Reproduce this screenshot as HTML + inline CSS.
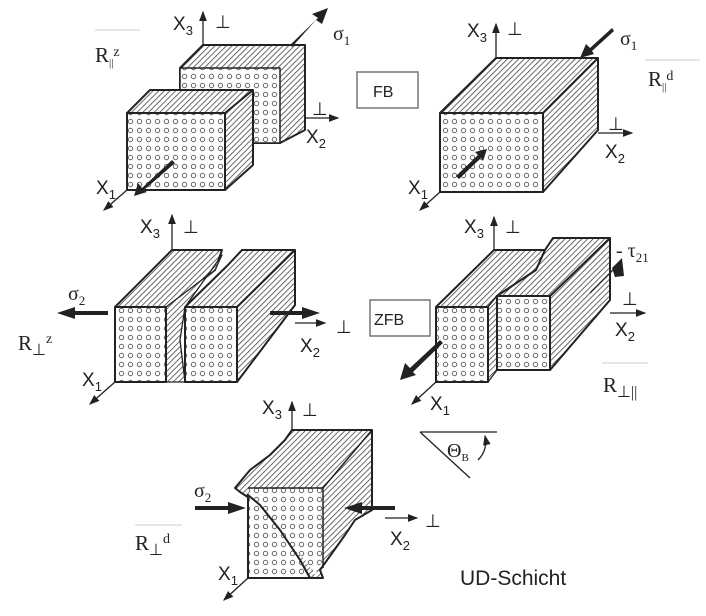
<!DOCTYPE html>
<html><head><meta charset="utf-8"><style>
html,body{margin:0;padding:0;background:#fff}
svg{display:block}
text{font-family:"Liberation Sans",sans-serif;fill:#222}
.s{font-family:"Liberation Serif",serif}
</style></head><body>
<svg width="706" height="616" viewBox="0 0 706 616" xmlns="http://www.w3.org/2000/svg">
<defs>
<pattern id="h" width="4" height="4" patternUnits="userSpaceOnUse" patternTransform="rotate(45)">
<rect width="4" height="4" fill="#fff"/><line x1="0" y1="0" x2="0" y2="4" stroke="#444" stroke-width="1.6"/></pattern>
<pattern id="d" width="9" height="9" patternUnits="userSpaceOnUse">
<rect width="9" height="9" fill="#fff"/><circle cx="4.5" cy="4.5" r="2.2" fill="none" stroke="#666" stroke-width="1"/></pattern>
<marker id="a" markerWidth="8" markerHeight="8" refX="7" refY="4" orient="auto"><path d="M0,1 L8,4 L0,7z" fill="#222"/></marker>
</defs>
<g stroke="#222" stroke-width="2" stroke-linejoin="round">
<polygon points="180,68 203,45 305,45 305,130 280,143 180,143" fill="url(#h)"/>
<rect x="180" y="68" width="100" height="75" fill="url(#d)" stroke-width="1.5"/>
<polygon points="127,113 150,90 253,90 253,165 225,190 225,113" fill="url(#h)"/>
<line x1="225" y1="113" x2="253" y2="90"/>
<rect x="127" y="113" width="98" height="77" fill="url(#d)"/>
</g>
<g stroke="#222" stroke-width="1.3" fill="none">
<line x1="203" y1="45" x2="203" y2="12" marker-end="url(#a)"/>
<line x1="305" y1="118" x2="338" y2="118" marker-end="url(#a)"/>
<line x1="127" y1="190" x2="104" y2="210" marker-end="url(#a)"/>
</g>
<path d="M290,45 L318,18 L312,14 L328,8 L322,24 L316,20 L292,47z" fill="#222"/>
<path d="M172,160 L142,188 L138,183 L134,196 L147,192 L144,190 L175,163z" fill="#222"/>
<text x="173" y="30" font-size="19">X<tspan font-size="13" dy="5">3</tspan></text>
<text x="215" y="28" font-size="18">⊥</text>
<text x="333" y="40" font-size="20" class="s">σ<tspan font-size="13" dy="5">1</tspan></text>
<text x="95" y="62" font-size="21" class="s">R<tspan font-size="11" dy="4">||</tspan><tspan font-size="14" dy="-10">z</tspan></text>
<line x1="95" y1="30" x2="140" y2="30" stroke="#ccc"/>
<text x="312" y="115" font-size="18">⊥</text>
<text x="306" y="143" font-size="19">X<tspan font-size="13" dy="5">2</tspan></text>
<text x="96" y="194" font-size="19">X<tspan font-size="13" dy="5">1</tspan></text>
<rect x="357" y="72" width="61" height="36" fill="#fff" stroke="#777" stroke-width="1.5"/>
<text x="373" y="97" font-size="16">FB</text>
<g stroke="#222" stroke-width="2" stroke-linejoin="round">
<polygon points="440,113 496,58 598,58 598,130 543,192 440,192" fill="url(#h)"/>
<line x1="543" y1="113" x2="598" y2="58"/>
<rect x="440" y="113" width="103" height="79" fill="url(#d)"/>
</g>
<g stroke="#222" stroke-width="1.3" fill="none">
<line x1="496" y1="58" x2="496" y2="24" marker-end="url(#a)"/>
<line x1="598" y1="133" x2="632" y2="133" marker-end="url(#a)"/>
<line x1="440" y1="192" x2="420" y2="210" marker-end="url(#a)"/>
</g>
<path d="M612,28 L590,48 L586,44 L580,58 L594,54 L592,51 L614,31z" fill="#222"/>
<path d="M456,176 L478,155 L475,152 L487,149 L483,161 L481,158 L459,179z" fill="#222"/>
<text x="467" y="37" font-size="19">X<tspan font-size="13" dy="5">3</tspan></text>
<text x="507" y="35" font-size="18">⊥</text>
<text x="620" y="45" font-size="20" class="s">σ<tspan font-size="13" dy="5">1</tspan></text>
<text x="648" y="86" font-size="21" class="s">R<tspan font-size="11" dy="4">||</tspan><tspan font-size="14" dy="-10">d</tspan></text>
<line x1="645" y1="60" x2="700" y2="60" stroke="#ccc"/>
<text x="608" y="130" font-size="18">⊥</text>
<text x="605" y="158" font-size="19">X<tspan font-size="13" dy="5">2</tspan></text>
<text x="408" y="194" font-size="19">X<tspan font-size="13" dy="5">1</tspan></text>
<g stroke="#222" stroke-width="2" stroke-linejoin="round">
<polygon points="115,307 172,250 222,250 215,270 168,307" fill="url(#h)"/>
<polygon points="185,307 228,265 242,250 295,250 295,305 237,382 185,382" fill="url(#h)"/>
<polygon points="166,307 215,270 222,255 185,307 180,340 185,382 166,382 160,345" fill="url(#h)" stroke-width="1.3"/>
<rect x="115" y="307" width="51" height="75" fill="url(#d)"/>
<rect x="185" y="307" width="52" height="75" fill="url(#d)"/>
<line x1="237" y1="307" x2="295" y2="250"/>
</g>
<g stroke="#222" stroke-width="1.3" fill="none">
<line x1="172" y1="250" x2="172" y2="215" marker-end="url(#a)"/>
<line x1="295" y1="323" x2="325" y2="323" marker-end="url(#a)"/>
<line x1="115" y1="382" x2="90" y2="404" marker-end="url(#a)"/>
</g>
<path d="M108,311 L75,311 L75,307 L57,313 L75,319 L75,315 L108,315z" fill="#222"/>
<path d="M270,311 L302,311 L302,307 L320,313 L302,319 L302,315 L270,315z" fill="#222"/>
<text x="140" y="233" font-size="19">X<tspan font-size="13" dy="5">3</tspan></text>
<text x="183" y="233" font-size="18">⊥</text>
<text x="68" y="300" font-size="20" class="s">σ<tspan font-size="13" dy="5">2</tspan></text>
<text x="18" y="350" font-size="21" class="s">R<tspan font-size="16" dy="5">⊥</tspan><tspan font-size="14" dy="-12">z</tspan></text>
<text x="336" y="333" font-size="18">⊥</text>
<text x="300" y="352" font-size="19">X<tspan font-size="13" dy="5">2</tspan></text>
<text x="82" y="386" font-size="19">X<tspan font-size="13" dy="5">1</tspan></text>
<g stroke="#222" stroke-width="2" stroke-linejoin="round">
<polygon points="436,307 494,250 545,250 536,270 497,296 488,307" fill="url(#h)"/>
<polygon points="497,296 536,270 545,250 553,238 610,238 610,300 550,370 497,370" fill="url(#h)"/>
<polygon points="488,307 497,296 497,370 488,382" fill="url(#h)" stroke-width="1.3"/>
<rect x="436" y="307" width="52" height="75" fill="url(#d)"/>
<rect x="497" y="296" width="53" height="74" fill="url(#d)"/>
<line x1="550" y1="296" x2="610" y2="238"/>
</g>
<g stroke="#222" stroke-width="1.3" fill="none">
<line x1="494" y1="250" x2="494" y2="217" marker-end="url(#a)"/>
<line x1="610" y1="313" x2="645" y2="313" marker-end="url(#a)"/>
<line x1="436" y1="382" x2="412" y2="404" marker-end="url(#a)"/>
<line x1="590" y1="293" x2="617" y2="266"/>
</g>
<path d="M612,268 L622,258 L624,276 L615,277z" fill="#222"/>
<path d="M440,340 L410,368 L405,363 L400,380 L416,375 L413,372 L443,343z" fill="#222"/>
<text x="464" y="233" font-size="19">X<tspan font-size="13" dy="5">3</tspan></text>
<text x="505" y="233" font-size="18">⊥</text>
<text x="616" y="257" font-size="20" class="s">- τ<tspan font-size="13" dy="5">21</tspan></text>
<text x="622" y="305" font-size="18">⊥</text>
<text x="615" y="336" font-size="19">X<tspan font-size="13" dy="5">2</tspan></text>
<text x="603" y="392" font-size="21" class="s">R<tspan font-size="16" dy="5">⊥||</tspan></text>
<line x1="602" y1="363" x2="648" y2="363" stroke="#ccc"/>
<rect x="370" y="300" width="60" height="36" fill="#fff" stroke="#777" stroke-width="1.5"/>
<text x="374" y="325" font-size="16">ZFB</text>
<text x="430" y="410" font-size="19">X<tspan font-size="13" dy="5">1</tspan></text>
<g stroke="#222" stroke-width="1.3" fill="none">
<polyline points="420,432 497,432"/><line x1="420" y1="432" x2="470" y2="478"/>
<path d="M478,460 Q488,450 485,436" marker-end="url(#a)"/>
</g>
<text x="447" y="457" font-size="20" class="s">Θ<tspan font-size="11" dy="4">B</tspan></text>
<g stroke="#222" stroke-width="2" stroke-linejoin="round">
<polygon points="292,430 372,430 372,510 355,520 345,535 320,570 323,578 310,578 300,560 280,530 260,505 240,492 235,488 250,470 270,455 285,440" fill="url(#h)"/>
<polygon points="248,488 323,488 323,560 315,575 305,560 290,545 270,520 250,500" fill="url(#d)" stroke="none"/>
<polygon points="248,495 260,505 280,530 300,560 310,578 248,578" fill="url(#d)"/>
<polyline points="248,488 323,488 323,568" fill="none" stroke-width="1.5"/>
<line x1="323" y1="488" x2="372" y2="430" stroke-width="1.5"/>
</g>
<g stroke="#222" stroke-width="1.3" fill="none">
<line x1="292" y1="430" x2="292" y2="402" marker-end="url(#a)"/>
<line x1="385" y1="518" x2="417" y2="518" marker-end="url(#a)"/>
<line x1="248" y1="578" x2="224" y2="600" marker-end="url(#a)"/>
</g>
<path d="M195,506 L228,506 L228,502 L246,508 L228,514 L228,510 L195,510z" fill="#222"/>
<path d="M395,506 L362,506 L362,502 L344,508 L362,514 L362,510 L395,510z" fill="#222"/>
<text x="262" y="414" font-size="19">X<tspan font-size="13" dy="5">3</tspan></text>
<text x="302" y="416" font-size="18">⊥</text>
<text x="194" y="497" font-size="20" class="s">σ<tspan font-size="13" dy="5">2</tspan></text>
<text x="135" y="550" font-size="21" class="s">R<tspan font-size="16" dy="5">⊥</tspan><tspan font-size="14" dy="-12">d</tspan></text>
<line x1="135" y1="525" x2="182" y2="525" stroke="#ccc"/>
<text x="425" y="527" font-size="18">⊥</text>
<text x="390" y="545" font-size="19">X<tspan font-size="13" dy="5">2</tspan></text>
<text x="218" y="580" font-size="19">X<tspan font-size="13" dy="5">1</tspan></text>
<text x="460" y="585" font-size="21">UD-Schicht</text>
</svg>
</body></html>
